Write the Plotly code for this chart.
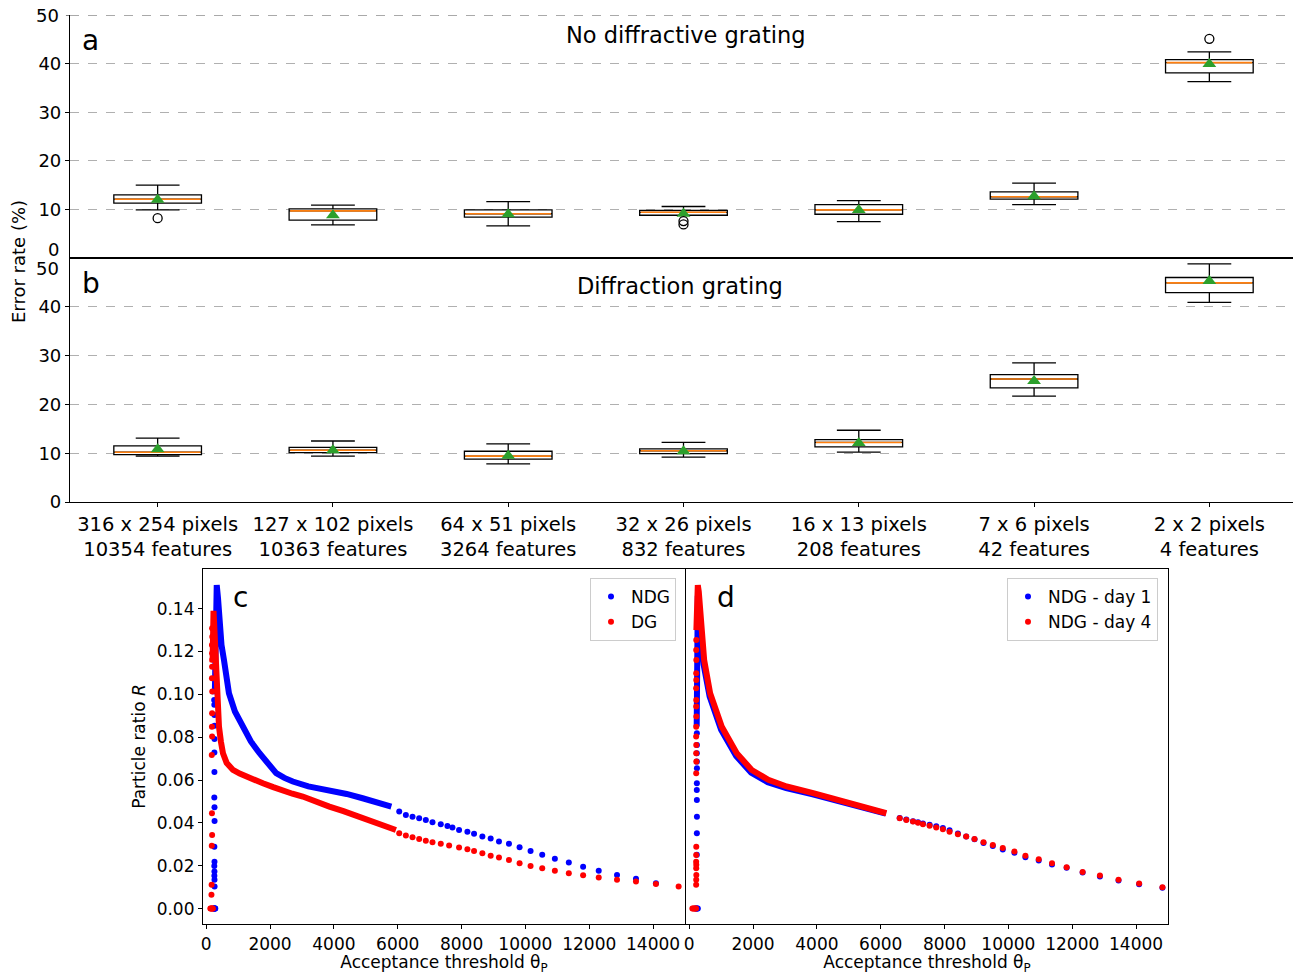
import plotly.graph_objects as go

# ---------------- data: panels a & b (box statistics, %) ----------------
categories = ["316 x 254 pixels<br>10354 features", "127 x 102 pixels<br>10363 features",
              "64 x 51 pixels<br>3264 features", "32 x 26 pixels<br>832 features",
              "16 x 13 pixels<br>208 features", "7 x 6 pixels<br>42 features",
              "2 x 2 pixels<br>4 features"]
cat_pos = [0, 1, 2, 3, 4, 5, 6]

a_low = [9.9, 6.8, 6.6, 8.8, 7.5, 11.0, 36.3]
a_q1 = [11.3, 7.8, 8.4, 8.8, 9.0, 12.1, 38.1]
a_med = [12.1, 9.7, 9.1, 9.4, 9.9, 12.6, 40.2]
a_q3 = [13.0, 10.1, 9.9, 9.8, 11.0, 13.6, 40.8]
a_high = [15.0, 10.9, 11.6, 10.6, 11.8, 15.4, 42.4]
a_mean = [12.0, 8.8, 9.0, 9.1, 9.9, 12.7, 39.9]
a_out_x = [0, 3, 3, 6]
a_out_y = [8.2, 7.6, 6.9, 45.1]

b_low = [9.4, 9.4, 7.8, 9.2, 10.2, 21.7, 40.9]
b_q1 = [9.7, 10.1, 8.8, 9.9, 11.3, 23.4, 42.9]
b_med = [10.2, 10.6, 9.4, 10.5, 12.2, 25.2, 44.9]
b_q3 = [11.5, 11.2, 10.4, 10.9, 12.8, 26.1, 46.0]
b_high = [13.1, 12.5, 11.9, 12.2, 14.7, 28.5, 48.8]
b_mean = [10.8, 10.6, 9.5, 10.4, 12.1, 24.8, 45.3]

# ---------------- data: panel c ----------------
ndg_rise_x = [250, 255, 258, 262, 260, 256, 258, 254, 260, 262, 256, 260, 254, 258, 256, 260, 262,
              235, 245, 255, 265, 275, 285]
ndg_rise_y = [0.0974, 0.0951, 0.0904, 0.0853, 0.0792, 0.0728, 0.0638, 0.0518, 0.0473, 0.0409, 0.0289,
              0.0219, 0.0199, 0.0173, 0.0153, 0.0134, 0.0103, 0, 0, 0, 0, 0, 0]
ndg_dense_x = [270, 275, 285, 300, 330, 370, 422, 480, 557, 630, 713, 900, 1151, 1400, 1672, 1930,
               2193, 2450, 2714, 3200, 3859, 4400, 4901, 5400, 5800]
ndg_dense_y = [0.100, 0.115, 0.135, 0.151, 0.151, 0.145, 0.1316, 0.123, 0.116, 0.108, 0.1005, 0.092,
               0.0849, 0.078, 0.0725, 0.068, 0.0632, 0.061, 0.0593, 0.057, 0.0554, 0.0535, 0.0515,
               0.0495, 0.0476]
ndg_tail_x = [6047, 6255, 6464, 6672, 6880, 7089, 7349, 7558, 7714, 7922, 8183, 8391, 8652, 8912,
              9172, 9485, 9818, 10162, 10527, 10923, 11360, 11808, 12297, 12870, 13464, 14089]
ndg_tail_y = [0.0453, 0.0437, 0.0429, 0.0422, 0.0414, 0.0403, 0.0394, 0.0386, 0.0378, 0.0367, 0.0359,
              0.0349, 0.0336, 0.0327, 0.0313, 0.0302, 0.0286, 0.0269, 0.0251, 0.0233, 0.0215, 0.0195,
              0.0176, 0.0157, 0.0139, 0.0118]

dg_rise_x = [185, 190, 180, 185, 190, 185, 180, 190, 185, 180, 185, 175, 180, 185, 175, 170, 165,
             130, 150, 170, 190, 210]
dg_rise_y = [0.1308, 0.1269, 0.1230, 0.1192, 0.1161, 0.1129, 0.1075, 0.1013, 0.0912, 0.0849, 0.0803,
             0.0717, 0.0445, 0.0344, 0.0293, 0.0111, 0.0064, 0, 0, 0, 0, 0]
dg_dense_x = [200, 215, 230, 265, 297, 339, 401, 460, 526, 640, 839, 1050, 1255, 1500, 1776, 2100,
              2401, 2700, 3026, 3400, 3859, 4300, 4797, 5350, 5944]
dg_dense_y = [0.115, 0.139, 0.139, 0.128, 0.116, 0.1005, 0.0849, 0.078, 0.0725, 0.068, 0.0647, 0.063,
              0.0616, 0.060, 0.0585, 0.0567, 0.0549, 0.0536, 0.0523, 0.050, 0.0476, 0.0455, 0.0429,
              0.040, 0.0367]
dg_tail_x = [6047, 6255, 6464, 6672, 6880, 7089, 7349, 7610, 7922, 8183, 8391, 8652, 8912, 9172,
             9485, 9818, 10162, 10527, 10923, 11360, 11808, 12297, 12870, 13464, 14089, 14800]
dg_tail_y = [0.0352, 0.0341, 0.0333, 0.0325, 0.0317, 0.0310, 0.0302, 0.0294, 0.0285, 0.0277, 0.0269,
             0.0258, 0.0247, 0.0238, 0.0227, 0.0212, 0.0199, 0.0188, 0.0176, 0.0165, 0.0156, 0.0145,
             0.0134, 0.0126, 0.0115, 0.0103]

# ---------------- data: panel d ----------------
d1_rise_x = [240, 242, 238, 240, 242, 240, 238, 240, 242, 240, 238, 200, 225, 250, 270]
d1_rise_y = [0.0818, 0.0764, 0.0725, 0.0686, 0.0655, 0.0585, 0.0554, 0.0507, 0.0429, 0.0352, 0.0251,
             0, 0, 0, 0]
d1_dense_x = [235, 245, 255, 270, 300, 350, 450, 640, 1000, 1470, 1940, 2460, 3040, 3870, 4600, 5330,
              6160]
d1_dense_y = [0.085, 0.110, 0.135, 0.146, 0.140, 0.130, 0.114, 0.099, 0.0835, 0.0712, 0.0635, 0.059,
              0.0562, 0.0533, 0.0503, 0.0473, 0.0443]
d1_tail_x = [6594, 6802, 7011, 7167, 7323, 7532, 7740, 7948, 8157, 8418, 8678, 8939, 9220, 9512,
             9824, 10189, 10533, 10950, 11366, 11825, 12325, 12867, 13450, 14096, 14826]
d1_tail_y = [0.0423, 0.0416, 0.0408, 0.0403, 0.0397, 0.0391, 0.0384, 0.0376, 0.0366, 0.0350, 0.0336,
             0.0324, 0.0306, 0.0292, 0.0276, 0.0260, 0.0240, 0.0224, 0.0206, 0.0190, 0.0168, 0.0150,
             0.0131, 0.0113, 0.0097]

d4_rise_x = [222, 220, 224, 220, 222, 218, 222, 220, 224, 220, 218, 222, 220, 224, 220, 222, 220, 218,
             222, 220, 224, 220, 218, 100, 130, 160, 190, 215]
d4_rise_y = [0.1254, 0.1207, 0.116, 0.1098, 0.1067, 0.1028, 0.0974, 0.0943, 0.0896, 0.0849, 0.0803,
             0.0764, 0.0725, 0.0686, 0.0632, 0.0289, 0.025, 0.0219, 0.0204, 0.0188, 0.0157, 0.0134,
             0.0111, 0, 0, 0, 0, 0]
d4_dense_x = [225, 240, 255, 270, 300, 365, 469, 656, 1021, 1490, 1959, 2479, 3053, 3885, 4615, 5344,
              6177]
d4_dense_y = [0.130, 0.145, 0.151, 0.151, 0.148, 0.1316, 0.116, 0.1005, 0.0849, 0.0725, 0.0647, 0.0601,
              0.057, 0.0539, 0.0508, 0.0476, 0.0445]
d4_tail_x = [6594, 6802, 7011, 7167, 7323, 7532, 7740, 7948, 8157, 8418, 8678, 8939, 9220, 9512,
             9824, 10189, 10533, 10950, 11366, 11825, 12325, 12867, 13450, 14096, 14826]
d4_tail_y = [0.0422, 0.0414, 0.0406, 0.0401, 0.0394, 0.0387, 0.0379, 0.0370, 0.0359, 0.0347, 0.0336,
             0.0325, 0.0310, 0.0297, 0.0283, 0.0266, 0.0247, 0.0230, 0.0211, 0.0193, 0.0171, 0.0154,
             0.0135, 0.0117, 0.0100]

c_xticks = [0, 2000, 4000, 6000, 8000, 10000, 12000, 14000]
c_xticklabels = ["0", "2000", "4000", "6000", "8000", "10000", "12000", "14000"]
c_yticks = [0.0, 0.02, 0.04, 0.06, 0.08, 0.10, 0.12, 0.14]

# ---------------- figure ----------------
# the page has an 8px body margin, so the figure is 8px smaller and all
# layout positions (given in reference-image pixels) are shifted by 8px
OFF = 8
W, H = 1301 - OFF, 975 - OFF
FONT = "DejaVu Sans"
BLUE, RED = "#0000ff", "#ff0000"
ORANGE, GREEN = "#ff7f0e", "#2ca02c"


def fx(p):
    return (p - OFF) / W


def fy(p):
    return 1 - (p - OFF) / H


fig = go.Figure()

BOX_PX = 0.5 * (1297 - 70) / 7.0


def add_boxes(xa, ya, low, q1, med, q3, high, mean):
    fig.add_trace(go.Box(x=cat_pos, q1=q1, median=med, q3=q3, lowerfence=low, upperfence=high,
                         width=0.5, whiskerwidth=0.5, fillcolor="white",
                         line=dict(color="black", width=1.3), boxpoints=False,
                         xaxis=xa, yaxis=ya, showlegend=False, hoverinfo="skip"))
    fig.add_trace(go.Scatter(x=cat_pos, y=med, mode="markers", xaxis=xa, yaxis=ya, showlegend=False,
                             marker=dict(symbol="line-ew", size=(BOX_PX - 2) / 1.4,
                                         line=dict(color=ORANGE, width=1.6))))
    fig.add_trace(go.Scatter(x=cat_pos, y=mean, mode="markers", xaxis=xa, yaxis=ya, showlegend=False,
                             marker=dict(symbol="triangle-up", size=12, color=GREEN)))


add_boxes("x", "y", a_low, a_q1, a_med, a_q3, a_high, a_mean)
fig.add_trace(go.Scatter(x=a_out_x, y=a_out_y, mode="markers", xaxis="x", yaxis="y", showlegend=False,
                         marker=dict(symbol="circle-open", size=9, color="black",
                                     line=dict(width=1.3))))
add_boxes("x2", "y2", b_low, b_q1, b_med, b_q3, b_high, b_mean)


def add_curve(xa, ya, rx, ry, dx, dy, tx, ty, color, name, legend):
    fig.add_trace(go.Scatter(x=dx, y=dy, mode="lines", xaxis=xa, yaxis=ya, showlegend=False,
                             line=dict(color=color, width=6), legend=legend))
    fig.add_trace(go.Scatter(x=rx, y=ry, mode="markers", xaxis=xa, yaxis=ya, showlegend=False,
                             marker=dict(color=color, size=6), legend=legend))
    fig.add_trace(go.Scatter(x=tx, y=ty, mode="markers", xaxis=xa, yaxis=ya, name=name,
                             marker=dict(color=color, size=6), legend=legend))


add_curve("x3", "y3", ndg_rise_x, ndg_rise_y, ndg_dense_x, ndg_dense_y, ndg_tail_x, ndg_tail_y,
          BLUE, "NDG", "legend")
add_curve("x3", "y3", dg_rise_x, dg_rise_y, dg_dense_x, dg_dense_y, dg_tail_x, dg_tail_y,
          RED, "DG", "legend")
add_curve("x4", "y4", d1_rise_x, d1_rise_y, d1_dense_x, d1_dense_y, d1_tail_x, d1_tail_y,
          BLUE, "NDG - day 1", "legend2")
add_curve("x4", "y4", d4_rise_x, d4_rise_y, d4_dense_x, d4_dense_y, d4_tail_x, d4_tail_y,
          RED, "NDG - day 4", "legend2")

grid = dict(showgrid=True, gridcolor="#b0b0b0", griddash="dash", gridwidth=0.8)
common_axis = dict(showline=True, linecolor="black", linewidth=1.2, zeroline=False,
                   ticks="outside", ticklen=4, tickcolor="black", tickwidth=1, automargin=False)

xdom_ab = [fx(70), fx(1297)]
fig.update_layout(
    width=W, height=H, margin=dict(l=0, r=0, t=0, b=0, autoexpand=False),
    plot_bgcolor="white", paper_bgcolor="white",
    font=dict(family=FONT, color="black", size=17),
    xaxis=dict(domain=xdom_ab, anchor="y", range=[-0.5, 6.5], showticklabels=False, ticks="",
               showline=True, linecolor="black", linewidth=1.2, mirror=False, zeroline=False,
               showgrid=False, automargin=False),
    yaxis=dict(domain=[fy(258), fy(15)], anchor="x", range=[0, 50], tickvals=[10, 20, 30, 40],
               mirror=True, tickfont=dict(size=18), **common_axis, **grid),
    xaxis2=dict(domain=xdom_ab, anchor="y2", range=[-0.5, 6.5], tickvals=cat_pos, ticktext=categories,
                mirror=True, showgrid=False, tickfont=dict(size=19.5), **common_axis),
    yaxis2=dict(domain=[fy(502), fy(258)], anchor="x2", range=[0, 50], tickvals=[0, 10, 20, 30, 40],
                mirror=True, tickfont=dict(size=18), **common_axis, **grid),
    xaxis3=dict(domain=[fx(203), fx(685)], anchor="y3", range=[-100, 15000], tickvals=c_xticks,
                ticktext=c_xticklabels,
                mirror=True, showgrid=False, tickfont=dict(size=17),
                title=dict(text="Acceptance threshold θ<sub>P</sub>", font=dict(size=17), standoff=0),
                **common_axis),
    yaxis3=dict(domain=[fy(924), fy(569)], anchor="x3", range=[-0.0072, 0.1585], tickvals=c_yticks,
                tickformat=".2f", mirror=True, showgrid=False, tickfont=dict(size=17),
                title=dict(text="Particle ratio <i>R</i>", font=dict(size=17), standoff=6),
                **common_axis),
    xaxis4=dict(domain=[fx(686), fx(1168)], anchor="y4", range=[-100, 15000], tickvals=c_xticks,
                ticktext=c_xticklabels,
                mirror=True, showgrid=False, tickfont=dict(size=17),
                title=dict(text="Acceptance threshold θ<sub>P</sub>", font=dict(size=17), standoff=0),
                **common_axis),
    yaxis4=dict(domain=[fy(924), fy(569)], anchor="x4", range=[-0.0072, 0.1585], showticklabels=False,
                showline=True, linecolor="black", linewidth=1.2, mirror=True, ticks="", zeroline=False,
                showgrid=False, automargin=False),
    legend=dict(x=fx(676), y=fy(578), xanchor="right", yanchor="top", bordercolor="#cccccc",
                borderwidth=1, bgcolor="rgba(255,255,255,0.8)", font=dict(size=17)),
    legend2=dict(x=fx(1158), y=fy(578), xanchor="right", yanchor="top", bordercolor="#cccccc",
                 borderwidth=1, bgcolor="rgba(255,255,255,0.8)", font=dict(size=17)),
)

# dashed top edge of panel a
fig.add_shape(type="line", xref="x domain", yref="y", x0=0, x1=1, y0=50, y1=50,
              line=dict(color="#555555", width=1.2, dash="dash"))
# tick mark for 50 at the top of panel a
fig.add_shape(type="line", xref="x domain", yref="y", x0=-0.0033, x1=0, y0=50, y1=50,
              line=dict(color="black", width=1))

ann = [
    dict(text="a", x=fx(80), y=fy(40), font=dict(size=28)),
    dict(text="b", x=fx(80), y=fy(284), font=dict(size=28)),
    dict(text="c", x=fx(231), y=fy(597), font=dict(size=28)),
    dict(text="d", x=fx(715), y=fy(597), font=dict(size=28)),
]
for a in ann:
    fig.add_annotation(xref="paper", yref="paper", showarrow=False, xanchor="left", yanchor="middle", **a)
fig.add_annotation(text="No diffractive grating", x=fx(686), y=fy(35), xref="paper", yref="paper",
                   showarrow=False, font=dict(size=22.5), xanchor="center", yanchor="middle")
fig.add_annotation(text="Diffraction grating", x=fx(680), y=fy(286), xref="paper", yref="paper",
                   showarrow=False, font=dict(size=22.5), xanchor="center", yanchor="middle")
fig.add_annotation(text="Error rate (%)", x=fx(18), y=fy(262), xref="paper", yref="paper",
                   showarrow=False, textangle=-90, font=dict(size=18), xanchor="center",
                   yanchor="middle")
# end tick labels (the reference shifts the inner ones inward)
fig.add_annotation(text="50", x=fx(61), y=fy(15), xref="paper", yref="paper", showarrow=False,
                   xanchor="right", yanchor="middle", font=dict(size=18))
fig.add_annotation(text="0", x=fx(61), y=fy(249), xref="paper", yref="paper", showarrow=False,
                   xanchor="right", yanchor="middle", font=dict(size=18))
fig.add_annotation(text="50", x=fx(61), y=fy(268), xref="paper", yref="paper", showarrow=False,
                   xanchor="right", yanchor="middle", font=dict(size=18))

fig.write_html("out.html")
